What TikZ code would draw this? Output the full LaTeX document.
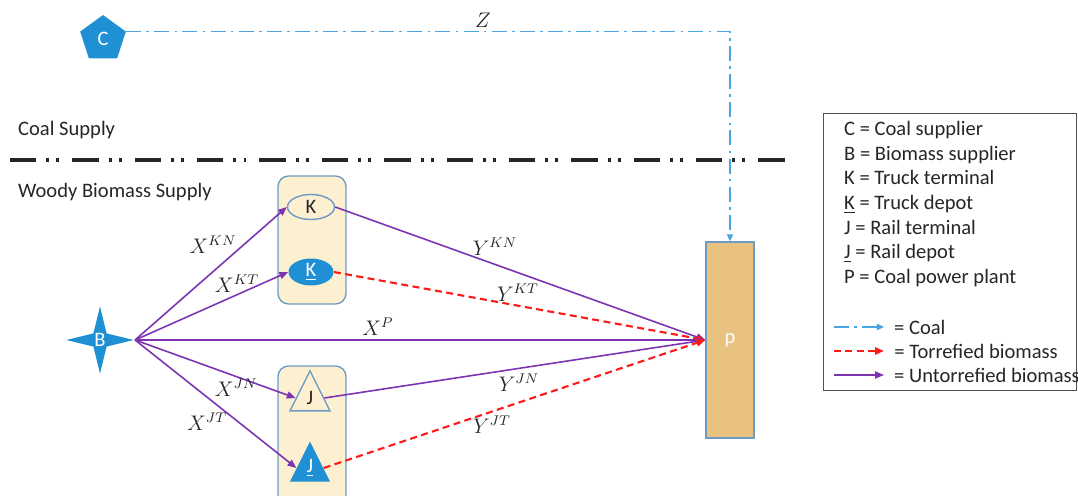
\documentclass[tikz,border=0pt]{standalone}
\usepackage{fontspec}
\setmainfont{Carlito}
\usetikzlibrary{arrows.meta,shapes.geometric,positioning}
\definecolor{fillblue}{HTML}{1F90D4}
\definecolor{coalblue}{HTML}{49A6DE}
\definecolor{untorr}{HTML}{7B33B2}
\definecolor{torr}{HTML}{FF1A1A}
\definecolor{cream}{HTML}{FDF0D0}
\definecolor{frame}{HTML}{6C9CC6}
\definecolor{wood}{HTML}{E8C27E}
\definecolor{ink}{HTML}{262626}

\begin{document}
\begin{tikzpicture}[x=0.02cm,y=-0.02cm,txt/.style={font=\fontsize{11.7}{14}\selectfont,text=ink},lab/.style={font=\large,text=ink},grp/.style={rounded corners=6pt,draw=frame,fill=cream,thick},dark/.style={fill=fillblue,text=white,inner sep=0pt,font=\fontsize{11.7}{14}\selectfont},light/.style={fill=cream,draw=frame,thick,text=ink,inner sep=0pt,font=\fontsize{11.7}{14}\selectfont},untorrarrow/.style={-{Triangle[length=5pt,width=4pt]},line width=0.9pt,untorr},torrarrow/.style={-{Triangle[length=5pt,width=4pt]},line width=1.2pt,torr,dash pattern=on 4pt off 2.5pt},coalarrow/.style={-{Triangle[length=4pt,width=3.5pt]},line width=0.9pt,coalblue,dash pattern=on 8.5pt off 3pt on 1.5pt off 3pt}]
 \useasboundingbox (0,0) rectangle (1078,496);
 \node[txt,anchor=west] (coalside) at (12,130) {Coal Supply};
 \node[txt,anchor=west] (woodside) at (12,192) {Woody Biomass Supply};
 \draw[line width=2pt,ink,dash pattern=on 15pt off 5.7pt on 1.7pt off 4pt on 1.7pt off 7.4pt] (10,160)--(790,160);
 \node[grp,minimum width=1.36cm,minimum height=2.56cm] (kgrp) at (312,240) {};
 \filldraw[grp] (278,496)--(278,366)--(346,366)--(346,496);
 \node[light,ellipse,minimum width=0.94cm,minimum height=0.5cm] (K) at (311,207) {K};
 \node[dark,ellipse,minimum width=0.9cm,minimum height=0.54cm] (Kd) at (311,272) {\underline{K}};
 \node[light,isosceles triangle,shape border rotate=90,isosceles triangle stretches,minimum width=0.8cm,minimum height=0.8cm] (J) at (310,398) {J};
 \node[dark,isosceles triangle,shape border rotate=90,isosceles triangle stretches,minimum width=0.8cm,minimum height=0.8cm] (Jd) at (310,468) {\underline{J}};
 \node[dark,star,star points=4,star point ratio=3.6,minimum size=1.2cm] (B) at (100,340) {B};
 \node[dark,regular polygon,regular polygon sides=5,minimum size=0.96cm] (C) at (103,39) {C};
 \node[draw=frame,fill=wood,thick,minimum width=0.96cm,minimum height=3.92cm,txt,text=white] (P) at (730,340) {p};
 \draw[coalarrow] (C.corner 5)-|(P.north);
 \node[lab] at (483,20) {$Z$};
 \draw[untorrarrow] (B.east)--(K.west); \draw[untorrarrow] (B.east)--(Kd.west); \draw[untorrarrow] (B.east)--(P.west); \draw[untorrarrow] (B.east)--(J.west); \draw[untorrarrow] (B.east)--(Jd.west);
 \draw[untorrarrow] (K.east)--(P.west); \draw[torrarrow] (Kd.east)--(P.west); \draw[untorrarrow] (J.east)--(P.west); \draw[torrarrow] (Jd.east)--(P.west);
 \node[lab] at (213,245) {$X^{KN}$};
 \node[lab] at (237,284) {$X^{KT}$};
 \node[lab] at (378,327) {$X^{P}$};
 \node[lab] at (236,388) {$X^{JN}$};
 \node[lab] at (207,422) {$X^{JT}$};
 \node[lab] at (495,247) {$Y^{KN}$};
 \node[lab] at (518,293) {$Y^{KT}$};
 \node[lab] at (519,383) {$Y^{JN}$};
 \node[lab] at (492,425) {$Y^{JT}$};
 \node[draw=ink!80,thick,minimum width=5.06cm,minimum height=5.54cm,anchor=north west] (legend) at (823,113) {};
 \node[txt,align=left,anchor=west] (keys) at (838,204) {C = Coal supplier\\B = Biomass supplier\\K = Truck terminal\\\underline{K} = Truck depot\\J = Rail terminal\\\underline{J} = Rail depot\\P = Coal power plant};
 \draw[coalarrow] (834,327)--(884,327) node[txt,right=2pt] {= Coal};
 \draw[torrarrow] (834,351)--(884,351) node[txt,right=2pt] {= Torrefied biomass};
 \draw[untorrarrow] (834,375)--(884,375) node[txt,right=2pt] {= Untorrefied biomass};
\end{tikzpicture}
\end{document}
